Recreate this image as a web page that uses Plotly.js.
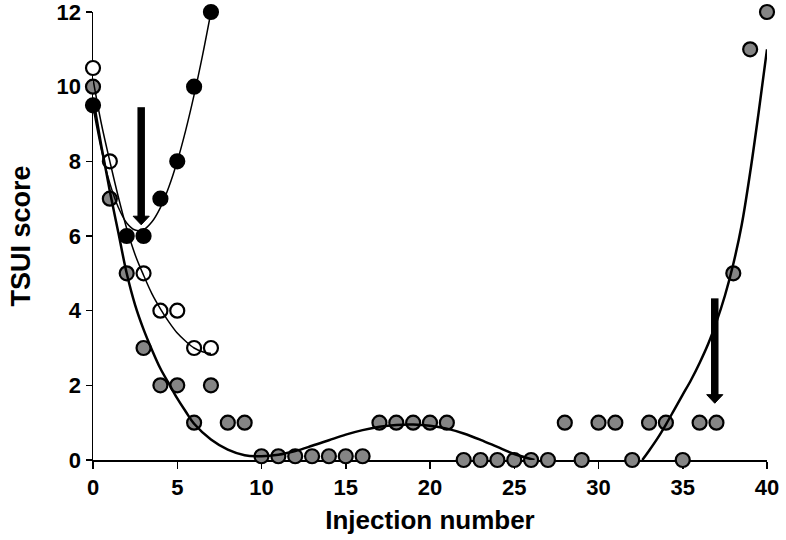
<!DOCTYPE html>
<html>
<head>
<meta charset="utf-8">
<script src="https://cdn.plot.ly/plotly-3.0.1.min.js"></script>
<style>
  html, body { margin: 0; padding: 0; background: #ffffff; }
  #chart { width: 786px; height: 540px; }
</style>
</head>
<body>
<div id="chart"></div>
<script>
// ---- Data ----
// Grey filled circles (main series)
const greyX = [0,1,2,3,4,5,6,7,8,9,10,11,12,13,14,15,16,17,18,19,20,21,22,23,24,25,26,27,28,29,30,31,32,33,34,35,36,37,38,39,40];
const greyY = [10,7,5,3,2,2,1,2,1,1,0.1,0.1,0.1,0.1,0.1,0.1,0.1,1,1,1,1,1,0,0,0,0,0,0,1,0,1,1,0,1,1,0,1,1,5,11,12];

// Open circles
const openX = [0,1,3,4,5,6,7];
const openY = [10.5,8,5,4,4,3,3];

// Black filled circles
const blackX = [0,2,3,4,5,6,7];
const blackY = [9.5,6,6,7,8,10,12];

// Trend curves
const blackFitX = [0,0.5,1,1.5,2,2.5,3,3.5,4,4.5,5,5.5,6,6.5,7];
const blackFitY = [9.45,8.30,7.41,6.77,6.35,6.16,6.17,6.38,6.76,7.31,8.0,8.83,9.78,10.84,12.0];

const openFitX = [0,0.5,1,1.5,2,2.5,3,3.5,4,4.5,5,5.5,6,6.5,7];
const openFitY = [10.2,9.0,8.0,7.05,6.2,5.5,4.95,4.45,4.05,3.7,3.4,3.18,3.0,2.9,2.85];

const greyFitX = [0,0.5,1,1.5,2,2.5,3,3.5,4,4.5,5,5.5,6,7,8,9,10,11,12,13,14,15,16,17,18,19,20,21,22,23,24,25,26.2];
const greyFitY = [9.7,8.4,7.2,6.1,5.0,4.15,3.5,2.95,2.45,2.05,1.65,1.3,0.97,0.55,0.28,0.13,0.1,0.14,0.24,0.38,0.53,0.68,0.8,0.89,0.94,0.95,0.92,0.84,0.71,0.54,0.35,0.16,0.0];

const riseFitX = [32.6,33,33.5,34,34.5,35,35.5,36,36.5,37,37.5,38,38.5,39,39.5,40];
const riseFitY = [0,0.25,0.58,0.95,1.35,1.75,2.15,2.6,3.1,3.7,4.4,5.25,6.3,7.7,9.3,11.0];

// Arrows (x position, top of shaft, tip)
const arrowX = [2.86, 36.9];
const arrowTop = [9.45, 4.33];
const arrowTip = [6.3, 1.52];

// Axis ticks
const xTicks = [0,5,10,15,20,25,30,35,40];
const yTicks = [0,2,4,6,8,10,12];

// ---- Build chart ----
const FONT = '"Liberation Sans", Arial, Helvetica, sans-serif';
const mk = (fill) => ({ size: 14, color: fill, line: { color: '#000000', width: 2.2 } });

const traces = [
  { x: greyX, y: greyY, type: 'scatter', mode: 'markers', marker: mk('#858585'), cliponaxis: false, hoverinfo: 'skip' },
  { x: openX, y: openY, type: 'scatter', mode: 'markers', marker: mk('#ffffff'), cliponaxis: false, hoverinfo: 'skip' },
  { x: blackX, y: blackY, type: 'scatter', mode: 'markers', marker: mk('#000000'), cliponaxis: false, hoverinfo: 'skip' },
  { x: greyFitX, y: greyFitY, type: 'scatter', mode: 'lines', line: { color: '#000', width: 2.5, shape: 'spline', smoothing: 1 }, cliponaxis: false, hoverinfo: 'skip' },
  { x: riseFitX, y: riseFitY, type: 'scatter', mode: 'lines', line: { color: '#000', width: 2.5, shape: 'spline', smoothing: 1 }, cliponaxis: false, hoverinfo: 'skip' },
  { x: openFitX, y: openFitY, type: 'scatter', mode: 'lines', line: { color: '#000', width: 1.5, shape: 'spline', smoothing: 1 }, cliponaxis: false, hoverinfo: 'skip' },
  { x: blackFitX, y: blackFitY, type: 'scatter', mode: 'lines', line: { color: '#000', width: 1.5, shape: 'spline', smoothing: 1 }, cliponaxis: false, hoverinfo: 'skip' }
];

const headLen = 0.23;   // y units
const headHalf = 0.48;  // x units
const shapes = [];
arrowX.forEach((ax, i) => {
  const base = arrowTip[i] + headLen;
  shapes.push({ type: 'line', xref: 'x', yref: 'y', x0: ax, x1: ax, y0: arrowTop[i], y1: base - 0.02,
    line: { color: '#000', width: 7.5 }, layer: 'above' });
  shapes.push({ type: 'path', xref: 'x', yref: 'y',
    path: `M ${ax - headHalf} ${base} L ${ax + headHalf} ${base} L ${ax} ${arrowTip[i]} Z`,
    fillcolor: '#000', line: { color: '#000', width: 1 }, layer: 'above' });
});

const layout = {
  width: 786, height: 540,
  margin: { l: 93, r: 19, t: 12, b: 80 },
  paper_bgcolor: '#ffffff', plot_bgcolor: '#ffffff',
  showlegend: false,
  font: { family: FONT, color: '#000' },
  xaxis: {
    range: [0, 40], tickvals: xTicks, ticktext: xTicks.map(String),
    showline: true, linecolor: '#000', linewidth: 1.5, layer: 'below traces',
    ticks: 'outside', ticklen: 7, tickwidth: 1.5, tickcolor: '#000',
    showgrid: false, zeroline: false, ticklabeloverflow: 'allow',
    tickfont: { family: FONT, size: 22, weight: 'bold', color: '#000' },
    title: { text: 'Injection number', font: { family: FONT, size: 26, weight: 'bold', color: '#000' }, standoff: 12 }
  },
  yaxis: {
    range: [0, 12], tickvals: yTicks, ticktext: yTicks.map(String),
    showline: true, linecolor: '#000', linewidth: 1.5, layer: 'below traces',
    ticks: 'outside', ticklen: 6, tickwidth: 1.5, tickcolor: '#000',
    showgrid: false, zeroline: false, ticklabeloverflow: 'allow',
    tickfont: { family: FONT, size: 22, weight: 'bold', color: '#000' },
    title: { text: 'TSUI score', font: { family: FONT, size: 27, weight: 'bold', color: '#000' }, standoff: 18 }
  },
  shapes: shapes
};

Plotly.newPlot('chart', traces, layout, { staticPlot: true, displayModeBar: false });
</script>
</body>
</html>
